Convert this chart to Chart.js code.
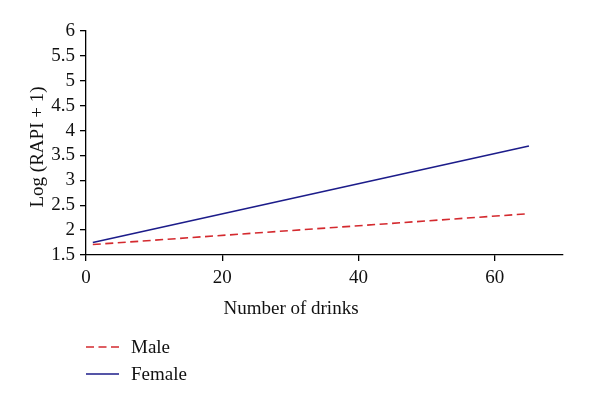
<!DOCTYPE html>
<html>
<head>
<meta charset="utf-8">
<script src="https://cdn.jsdelivr.net/npm/chart.js@4.4.1/dist/chart.umd.min.js"></script>
<style>
  html, body { margin: 0; padding: 0; background: #ffffff; }
  #wrap { width: 600px; height: 406px; position: relative; }
</style>
</head>
<body>
<div id="wrap"><canvas id="chart"></canvas></div>
<script>
// data
const drinks = [1, 65];
const maleValues = [1.71, 2.33];
const femaleValues = [1.75, 3.69];
const seriesNames = ["Male", "Female"];
const xTicks = [0, 20, 40, 60];
const yTicks = [1.5, 2, 2.5, 3, 3.5, 4, 4.5, 5, 5.5, 6];
const xTitle = "Number of drinks";
const yTitle = "Log (RAPI + 1)";

const FONT = "'Liberation Serif', 'DejaVu Serif', serif";
const RED = "#d42a2f";
const BLUE = "#1c1c8a";

// axis titles and legend, drawn by hand to match the original layout
const extras = {
  id: "extras",
  afterDraw(chart) {
    const ctx = chart.ctx;
    ctx.save();
    ctx.fillStyle = "#111";
    ctx.font = "19px " + FONT;
    ctx.textAlign = "center";
    ctx.textBaseline = "middle";
    ctx.fillText(xTitle, 291, 309);

    ctx.save();
    ctx.translate(38, 147);
    ctx.rotate(-Math.PI / 2);
    ctx.fillText(yTitle, 0, 0);
    ctx.restore();

    // legend
    ctx.textAlign = "left";
    chart.data.datasets.forEach((ds, i) => {
      const y = 347 + i * 27;
      ctx.beginPath();
      ctx.strokeStyle = ds.borderColor;
      ctx.lineWidth = ds.borderWidth;
      ctx.setLineDash(ds.borderDash || []);
      ctx.moveTo(86, y);
      ctx.lineTo(119, y);
      ctx.stroke();
      ctx.setLineDash([]);
      ctx.fillStyle = "#111";
      ctx.fillText(ds.label, 131, y + 1);
    });
    ctx.restore();
  }
};

const ctx = document.getElementById("chart").getContext("2d");
new Chart(ctx, {
  type: "line",
  data: {
    datasets: [
      {
        label: seriesNames[0],
        data: drinks.map((x, i) => ({ x: x, y: maleValues[i] })),
        borderColor: RED,
        borderWidth: 1.6,
        borderDash: [8, 4.5],
        pointRadius: 0,
        fill: false,
      },
      {
        label: seriesNames[1],
        data: drinks.map((x, i) => ({ x: x, y: femaleValues[i] })),
        borderColor: BLUE,
        borderWidth: 1.6,
        pointRadius: 0,
        fill: false,
      },
    ],
  },
  options: {
    responsive: true,
    maintainAspectRatio: false,
    animation: false,
    layout: { padding: { top: 31, right: 37, left: 0, bottom: 0 } },
    plugins: {
      legend: { display: false },
      tooltip: { enabled: false },
    },
    scales: {
      x: {
        type: "linear",
        min: 0,
        max: 70,
        afterBuildTicks: (scale) => {
          scale.ticks = xTicks.map((v) => ({ value: v }));
        },
        afterFit: (scale) => { scale.height = 151; },
        border: { color: "#000", width: 1.3 },
        grid: { drawOnChartArea: false, color: "#000", tickLength: 6, lineWidth: 1.3 },
        ticks: { color: "#111", padding: 6, autoSkip: false, font: { family: FONT, size: 19 }, maxRotation: 0 },
      },
      y: {
        min: 1.5,
        max: 6,
        afterBuildTicks: (scale) => {
          scale.ticks = yTicks.map((v) => ({ value: v }));
        },
        afterFit: (scale) => { scale.width = 86; },
        border: { color: "#000", width: 1.3 },
        grid: { drawOnChartArea: false, color: "#000", tickLength: 6, lineWidth: 1.3 },
        ticks: {
          color: "#111",
          padding: 5,
          autoSkip: false,
          font: { family: FONT, size: 19 },
          callback: (v) => String(v),
        },
      },
    },
  },
  plugins: [extras],
});
</script>
</body>
</html>
